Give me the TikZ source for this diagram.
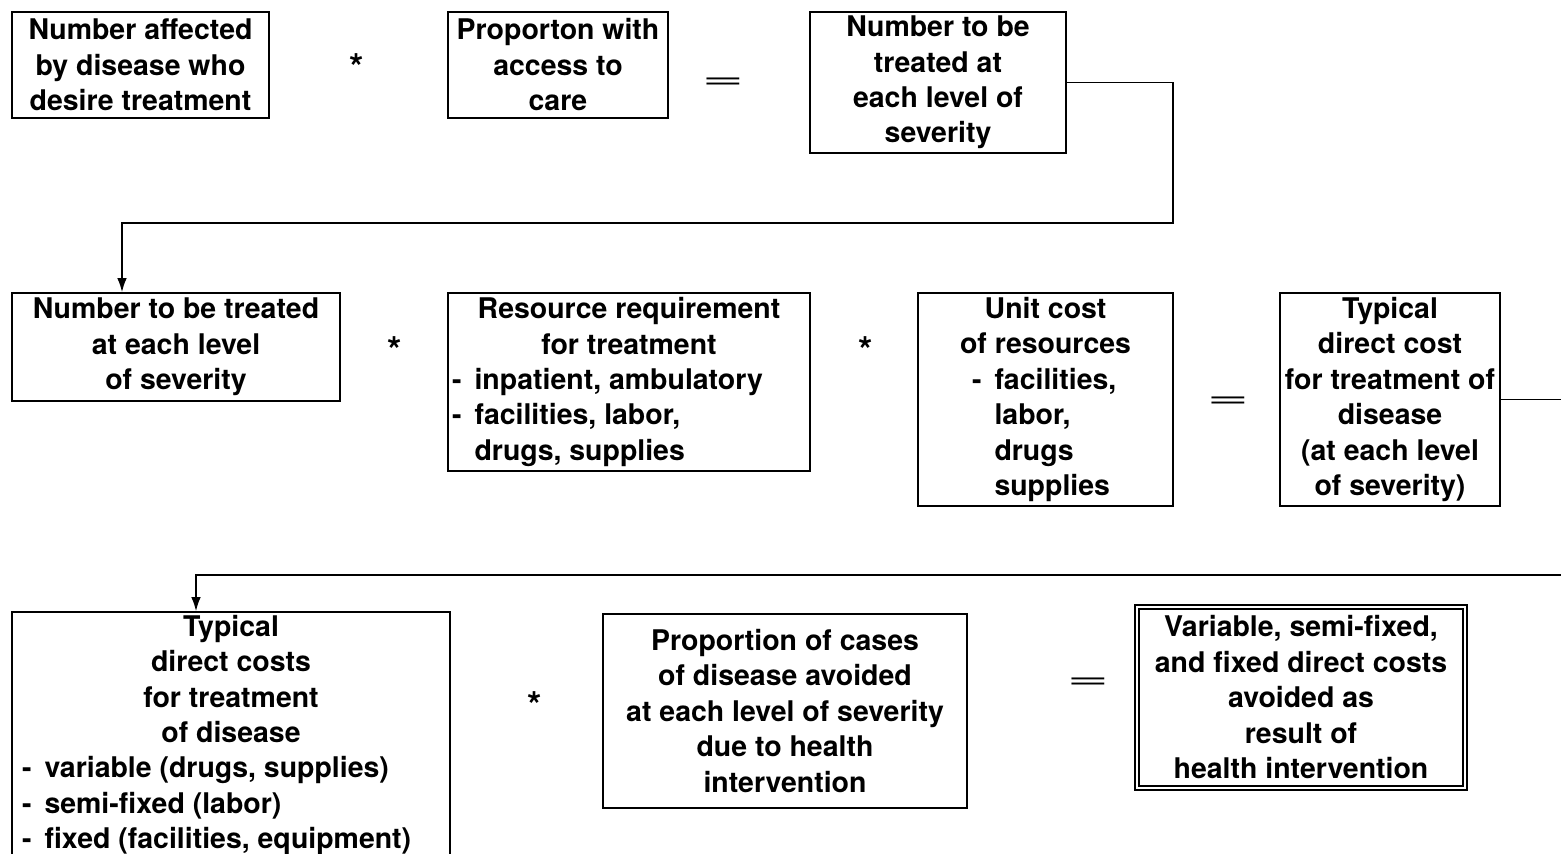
\documentclass[tikz,border=0pt]{standalone}
\usepackage{fontspec}
\setmainfont{TeX Gyre Heros}
\usetikzlibrary{arrows.meta}

% list lines: dash, then text; continuation lines line up with the text
\newcommand{\itm}[2]{\makebox[#1][l]{\makebox[0.45cm][l]{-}#2}}
\newcommand{\cnt}[2]{\makebox[#1][l]{\hspace{0.45cm}#2}}

\begin{document}
\begin{tikzpicture}[x=0.02cm, y=-0.02cm,
	box/.style={draw, line width=0.9pt, inner sep=0pt, align=center, font=\fontsize{16.2}{20.2}\selectfont\bfseries,
		execute at begin node={\rule{0pt}{15.2pt}}},
	op/.style={font=\fontsize{21}{24}\selectfont\bfseries},
	eq/.style={font=\fontsize{16}{20}\selectfont},
	conn/.style={line width=0.9pt, -{Latex[length=0.28cm, width=0.19cm]}}]
		\useasboundingbox (0, 0) rectangle (1561, 854);
		\clip (0, 0) rectangle (1561, 854);

		% first row
		\node[box, minimum width=5.14cm, minimum height=2.12cm] (affected) at (140.5, 65) {Number affected\\by disease who\\desire treatment};
		\node[op] (s1) at (357, 67) {*};
		\node[box, minimum width=4.4cm, minimum height=2.12cm] (access) at (558, 65) {Proporton with\\access to\\care};
		\node[eq] (e1) at (723, 83) {\scalebox{2.6}[1]{=}};
		\node[box, minimum width=5.12cm, minimum height=2.82cm] (treated) at (938, 82.5) {Number to be\\treated at\\each level of\\severity};

		% second row
		\node[box, minimum width=6.56cm, minimum height=2.16cm] (treated2) at (176, 347) {Number to be treated\\at each level\\of severity};
		\node[op] (s2) at (395, 350) {*};
		\node[box, minimum width=7.24cm, minimum height=3.56cm] (resource) at (629, 382) {Resource requirement\\for treatment\\\itm{7.08cm}{inpatient, ambulatory}\\\itm{7.08cm}{facilities, labor,}\\\cnt{7.08cm}{drugs, supplies}};
		\node[op] (s3) at (866, 350) {*};
		\node[box, minimum width=5.1cm, minimum height=4.26cm] (unitcost) at (1045.5, 399.5) {Unit cost\\of resources\\\itm{2.94cm}{facilities,}\\\cnt{2.94cm}{labor,}\\\cnt{2.94cm}{drugs}\\\cnt{2.94cm}{supplies}};
		\node[eq] (e2) at (1228, 402) {\scalebox{2.6}[1]{=}};
		\node[box, minimum width=4.4cm, minimum height=4.26cm] (typcost) at (1390, 399.5) {Typical\\direct cost\\for treatment of\\disease\\(at each level\\of severity)};

		% third row
		\node[box, minimum width=8.76cm, minimum height=4.92cm] (typcosts) at (231, 735) {Typical\\direct costs\\for treatment\\of disease\\\itm{8.36cm}{variable (drugs, supplies)}\\\itm{8.36cm}{semi-fixed (labor)}\\\itm{8.36cm}{fixed (facilities, equipment)}};
		\node[op] (s4) at (535, 705) {*};
		\node[box, minimum width=7.28cm, minimum height=3.88cm] (avoided) at (785, 711) {Proportion of cases\\of disease avoided\\at each level of severity\\due to health\\intervention};
		\node[eq] (e3) at (1088, 683) {\scalebox{2.6}[1]{=}};
		\node[box, double, double distance=1.4pt, line width=0.8pt, minimum width=6.56cm, minimum height=3.62cm] (result) at (1301, 697.5) {Variable, semi-fixed,\\and fixed direct costs\\avoided as\\result of\\health intervention};

		% connectors between the rows
		\coordinate (r1) at (1173, 223);
		\coordinate (d1) at (122, 223);
		\draw[conn] (treated.east) -| (r1) -- (d1) -- (d1 |- treated2.north);
		\coordinate (r2) at (1585, 575);
		\coordinate (h1) at (196, 575);
		\draw[conn] (typcost.east) -| (r2) -- (h1) -- (h1 |- typcosts.north);
		\end{tikzpicture}
\end{document}
